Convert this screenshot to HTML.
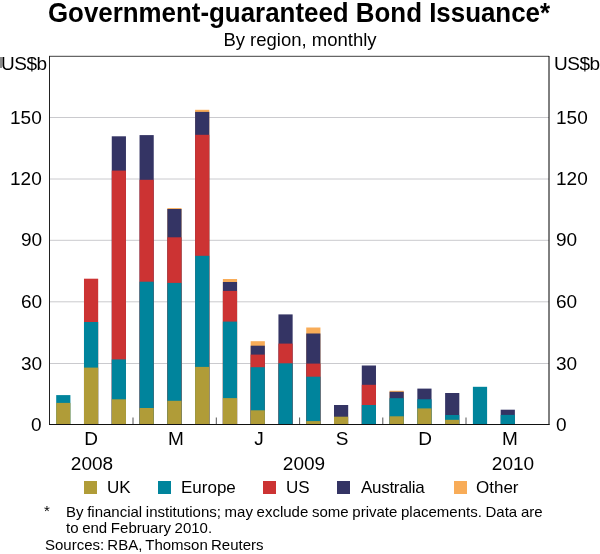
<!DOCTYPE html>
<html><head><meta charset="utf-8">
<style>
html,body{margin:0;padding:0;background:#fff;}
body{width:600px;height:554px;position:relative;overflow:hidden;font-family:"Liberation Sans",sans-serif;color:#000;}
div{will-change:transform;}
.t{position:absolute;white-space:nowrap;line-height:1;}
.yl{position:absolute;font-size:19px;line-height:1;white-space:nowrap;}
.yl.l{text-align:right;right:558px;}
.yl.r{left:556px;}
.xl{position:absolute;font-size:19px;line-height:1;width:60px;text-align:center;}
.lg{position:absolute;width:13px;height:13px;top:481px;}
.lt{position:absolute;font-size:17px;line-height:1;top:479px;white-space:nowrap;}
.fn{position:absolute;font-size:15px;line-height:1;white-space:nowrap;word-spacing:-0.5px;}
</style></head><body>
<div class="t" id="title" style="left:-1px;width:600px;text-align:center;top:1.2px;font-size:25.9px;font-weight:bold;transform:scaleY(1.055);transform-origin:50% 22px;">Government-guaranteed Bond Issuance*</div>
<div class="t" id="sub" style="left:-0.4px;width:600px;text-align:center;top:30.6px;font-size:18.5px;">By region, monthly</div>
<svg style="position:absolute;left:0;top:0" width="600" height="554" viewBox="0 0 600 554">
<line x1="49" y1="117.5" x2="549" y2="117.5" stroke="#cacace" stroke-width="1"/>
<line x1="49" y1="179.0" x2="549" y2="179.0" stroke="#cacace" stroke-width="1"/>
<line x1="49" y1="240.3" x2="549" y2="240.3" stroke="#cacace" stroke-width="1"/>
<line x1="49" y1="301.8" x2="549" y2="301.8" stroke="#cacace" stroke-width="1"/>
<line x1="49" y1="363.5" x2="549" y2="363.5" stroke="#cacace" stroke-width="1"/>

<rect x="56.20" y="395.10" width="14.2" height="28.90" fill="#00849c"/>
<rect x="56.20" y="402.90" width="14.2" height="21.10" fill="#b09c38"/>
<rect x="83.98" y="278.70" width="14.2" height="145.30" fill="#cc3333"/>
<rect x="83.98" y="322.00" width="14.2" height="102.00" fill="#00849c"/>
<rect x="83.98" y="367.60" width="14.2" height="56.40" fill="#b09c38"/>
<rect x="111.76" y="136.30" width="14.2" height="287.70" fill="#343464"/>
<rect x="111.76" y="170.60" width="14.2" height="253.40" fill="#cc3333"/>
<rect x="111.76" y="359.40" width="14.2" height="64.60" fill="#00849c"/>
<rect x="111.76" y="399.30" width="14.2" height="24.70" fill="#b09c38"/>
<rect x="139.54" y="135.10" width="14.2" height="288.90" fill="#343464"/>
<rect x="139.54" y="179.80" width="14.2" height="244.20" fill="#cc3333"/>
<rect x="139.54" y="281.70" width="14.2" height="142.30" fill="#00849c"/>
<rect x="139.54" y="408.00" width="14.2" height="16.00" fill="#b09c38"/>
<rect x="167.32" y="208.10" width="14.2" height="215.90" fill="#f8ac58"/>
<rect x="167.32" y="209.00" width="14.2" height="215.00" fill="#343464"/>
<rect x="167.32" y="237.30" width="14.2" height="186.70" fill="#cc3333"/>
<rect x="167.32" y="282.90" width="14.2" height="141.10" fill="#00849c"/>
<rect x="167.32" y="400.80" width="14.2" height="23.20" fill="#b09c38"/>
<rect x="195.10" y="109.80" width="14.2" height="314.20" fill="#f8ac58"/>
<rect x="195.10" y="111.90" width="14.2" height="312.10" fill="#343464"/>
<rect x="195.10" y="134.80" width="14.2" height="289.20" fill="#cc3333"/>
<rect x="195.10" y="255.80" width="14.2" height="168.20" fill="#00849c"/>
<rect x="195.10" y="366.90" width="14.2" height="57.10" fill="#b09c38"/>
<rect x="222.88" y="279.00" width="14.2" height="145.00" fill="#f8ac58"/>
<rect x="222.88" y="282.00" width="14.2" height="142.00" fill="#343464"/>
<rect x="222.88" y="290.90" width="14.2" height="133.10" fill="#cc3333"/>
<rect x="222.88" y="321.60" width="14.2" height="102.40" fill="#00849c"/>
<rect x="222.88" y="398.10" width="14.2" height="25.90" fill="#b09c38"/>
<rect x="250.66" y="341.20" width="14.2" height="82.80" fill="#f8ac58"/>
<rect x="250.66" y="345.70" width="14.2" height="78.30" fill="#343464"/>
<rect x="250.66" y="354.60" width="14.2" height="69.40" fill="#cc3333"/>
<rect x="250.66" y="367.20" width="14.2" height="56.80" fill="#00849c"/>
<rect x="250.66" y="410.30" width="14.2" height="13.70" fill="#b09c38"/>
<rect x="278.44" y="314.40" width="14.2" height="109.60" fill="#343464"/>
<rect x="278.44" y="343.60" width="14.2" height="80.40" fill="#cc3333"/>
<rect x="278.44" y="363.30" width="14.2" height="60.70" fill="#00849c"/>
<rect x="306.22" y="327.50" width="14.2" height="96.50" fill="#f8ac58"/>
<rect x="306.22" y="333.50" width="14.2" height="90.50" fill="#343464"/>
<rect x="306.22" y="363.60" width="14.2" height="60.40" fill="#cc3333"/>
<rect x="306.22" y="376.70" width="14.2" height="47.30" fill="#00849c"/>
<rect x="306.22" y="421.10" width="14.2" height="2.90" fill="#b09c38"/>
<rect x="334.00" y="405.00" width="14.2" height="19.00" fill="#343464"/>
<rect x="334.00" y="416.70" width="14.2" height="7.30" fill="#b09c38"/>
<rect x="361.78" y="365.50" width="14.2" height="58.50" fill="#343464"/>
<rect x="361.78" y="384.80" width="14.2" height="39.20" fill="#cc3333"/>
<rect x="361.78" y="405.00" width="14.2" height="19.00" fill="#00849c"/>
<rect x="389.56" y="390.80" width="14.2" height="33.20" fill="#f8ac58"/>
<rect x="389.56" y="391.80" width="14.2" height="32.20" fill="#343464"/>
<rect x="389.56" y="398.20" width="14.2" height="25.80" fill="#00849c"/>
<rect x="389.56" y="416.30" width="14.2" height="7.70" fill="#b09c38"/>
<rect x="417.34" y="388.60" width="14.2" height="35.40" fill="#343464"/>
<rect x="417.34" y="399.30" width="14.2" height="24.70" fill="#00849c"/>
<rect x="417.34" y="408.40" width="14.2" height="15.60" fill="#b09c38"/>
<rect x="445.12" y="393.00" width="14.2" height="31.00" fill="#343464"/>
<rect x="445.12" y="415.00" width="14.2" height="9.00" fill="#00849c"/>
<rect x="445.12" y="419.80" width="14.2" height="4.20" fill="#b09c38"/>
<rect x="472.90" y="386.80" width="14.2" height="37.20" fill="#00849c"/>
<rect x="500.68" y="409.70" width="14.2" height="14.30" fill="#343464"/>
<rect x="500.68" y="414.90" width="14.2" height="9.10" fill="#00849c"/>
<line x1="133" y1="417.5" x2="133" y2="424" stroke="#555" stroke-width="1"/>
<line x1="216.3" y1="417.5" x2="216.3" y2="424" stroke="#555" stroke-width="1"/>
<line x1="299.6" y1="417.5" x2="299.6" y2="424" stroke="#555" stroke-width="1"/>
<line x1="382.8" y1="417.5" x2="382.8" y2="424" stroke="#555" stroke-width="1"/>
<line x1="466" y1="417.5" x2="466" y2="424" stroke="#555" stroke-width="1"/>

<line x1="49" y1="56.3" x2="549" y2="56.3" stroke="#000" stroke-width="1" opacity="0.75"/>
<line x1="49.5" y1="56" x2="49.5" y2="425" stroke="#222" stroke-width="1"/>
<line x1="549" y1="56" x2="549" y2="425" stroke="#000" stroke-width="1" opacity="1"/>
<line x1="49" y1="424.5" x2="549.5" y2="424.5" stroke="#111" stroke-width="1.2"/>
</svg>
<div class="yl" style="left:0.5px;top:54px;letter-spacing:-0.5px;">US$b</div>
<div class="yl" style="left:554px;top:54px;letter-spacing:-0.5px;">US$b</div>
<div class="yl l" style="top:108px;">150</div>
<div class="yl r" style="top:108px;">150</div>
<div class="yl l" style="top:169px;">120</div>
<div class="yl r" style="top:169px;">120</div>
<div class="yl l" style="top:230px;">90</div>
<div class="yl r" style="top:230px;">90</div>
<div class="yl l" style="top:292px;">60</div>
<div class="yl r" style="top:292px;">60</div>
<div class="yl l" style="top:354px;">30</div>
<div class="yl r" style="top:354px;">30</div>
<div class="yl l" style="top:415px;">0</div>
<div class="yl r" style="top:415px;">0</div>
<div class="xl" style="left:61px;top:429px;">D</div>
<div class="xl" style="left:145.5px;top:429px;">M</div>
<div class="xl" style="left:228.7px;top:429px;">J</div>
<div class="xl" style="left:311.7px;top:429px;">S</div>
<div class="xl" style="left:394.8px;top:429px;">D</div>
<div class="xl" style="left:479.5px;top:429px;">M</div>
<div class="xl" style="left:62px;top:454px;">2008</div>
<div class="xl" style="left:273.5px;top:454px;">2009</div>
<div class="xl" style="left:483px;top:454px;">2010</div>
<div class="lg" style="left:84px;background:#b09c38"></div><div class="lt" style="left:106.7px;">UK</div>
<div class="lg" style="left:158px;background:#00849c"></div><div class="lt" style="left:181px;">Europe</div>
<div class="lg" style="left:263px;background:#cc3333"></div><div class="lt" style="left:286.2px;">US</div>
<div class="lg" style="left:337px;background:#343464"></div><div class="lt" style="left:360.5px;letter-spacing:-0.3px;">Australia</div>
<div class="lg" style="left:454px;background:#f8ac58"></div><div class="lt" style="left:476.2px;">Other</div>
<div class="fn" style="left:44px;top:503px;">*</div>
<div style="position:absolute;left:0;top:57px;width:1.5px;height:10.5px;background:#8a8a8a;"></div>
<div class="fn" style="left:65.5px;top:504px;">By financial institutions; may exclude some private placements. Data are</div>
<div class="fn" style="left:65.5px;top:520px;">to end February 2010.</div>
<div class="fn" style="left:44.5px;top:537px;word-spacing:-1px;">Sources: RBA, Thomson Reuters</div>
</body></html>
